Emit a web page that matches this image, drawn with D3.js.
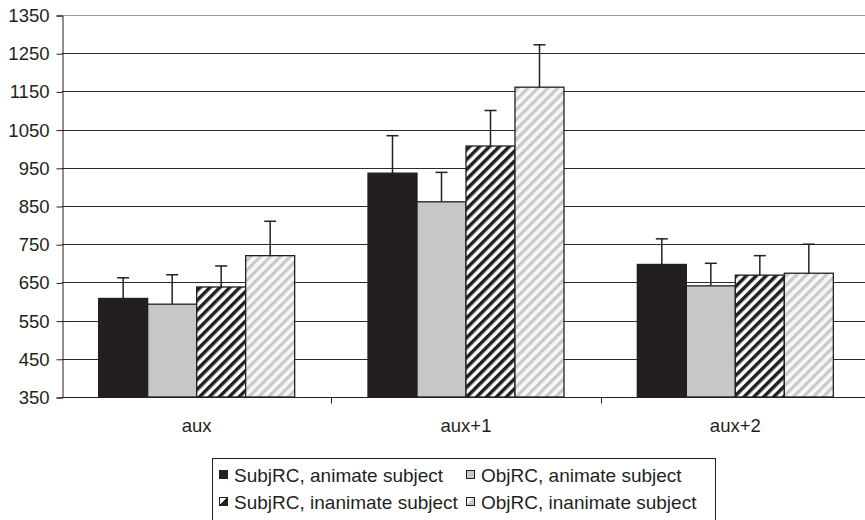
<!DOCTYPE html>
<html>
<head>
<meta charset="utf-8">
<script src="https://cdn.jsdelivr.net/npm/d3@7"></script>
<style>
  body { margin: 0; background: #fff; }
  svg { display: block; }
  text { font-family: "Liberation Sans", Arial, sans-serif; fill: #231f20; }
</style>
</head>
<body>
<div id="chart"></div>
<script>
let categories = ["aux", "aux+1", "aux+2"]
let seriesNames = ["SubjRC, animate subject", "ObjRC, animate subject",
  "SubjRC, inanimate subject", "ObjRC, inanimate subject"]

// mean reading times per condition, one array per series
let subjAnimate = [608, 936, 697]
let objAnimate = [593, 861, 641]
let subjInanimate = [638, 1007, 669]
let objInanimate = [720, 1161, 674]

// error bar lengths (upper half only)
let subjAnimateErr = [54, 98, 67]
let objAnimateErr = [77, 77, 59]
let subjInanimateErr = [55, 93, 51]
let objInanimateErr = [90, 111, 76]

let yTicks = [350, 450, 550, 650, 750, 850, 950, 1050, 1150, 1250, 1350]

let means = [subjAnimate, objAnimate, subjInanimate, objInanimate]
let errs = [subjAnimateErr, objAnimateErr, subjInanimateErr, objInanimateErr]

let config = {
  width: 865,
  height: 520,
  left: 62,
  right: 870,
  top: 15,
  bottom: 397,
  groupWidth: 196,
  capWidth: 12,
  fontSize: 18.5,
  legendFontSize: 19
}

let fills = ["#231f20", "#c6c7c9", "url(#hatchDark)", "url(#hatchLight)"]
let swatchFills = ["#231f20", "#c6c7c9", "url(#legendDark)", "url(#legendLight)"]

let svg = d3.select("#chart").append("svg")
  .attr("width", config.width)
  .attr("height", config.height)

// hatch patterns
let defs = svg.append("defs")
function hatch(id, bg, fg, w) {
  let p = defs.append("pattern")
    .attr("id", id)
    .attr("patternUnits", "userSpaceOnUse")
    .attr("width", 7)
    .attr("height", 7)
    .attr("patternTransform", "rotate(45)")
  p.append("rect").attr("width", 7).attr("height", 7).attr("fill", bg)
  p.append("rect").attr("width", w).attr("height", 7).attr("fill", fg)
}
hatch("hatchDark", "#fff", "#231f20", 3.5)
hatch("hatchLight", "#f7f7f7", "#c9c9c9", 3.2)

// legend swatches: half-filled squares
function halfSwatch(id, light, dark) {
  let lg = defs.append("linearGradient")
    .attr("id", id)
    .attr("x1", 1).attr("y1", 1).attr("x2", 0).attr("y2", 0)
  lg.append("stop").attr("offset", "0.5").attr("stop-color", dark)
  lg.append("stop").attr("offset", "0.5").attr("stop-color", light)
}
halfSwatch("legendDark", "#fff", "#231f20")
halfSwatch("legendLight", "#f4f4f4", "#c9c9c9")

let y = d3.scaleLinear()
  .domain([350, 1350])
  .range([config.bottom, config.top])

let x0 = d3.scaleBand()
  .domain(categories)
  .range([config.left, config.right])

let pad = (x0.bandwidth() - config.groupWidth) / 2
let x1 = d3.scaleBand()
  .domain(d3.range(seriesNames.length))
  .range([pad, pad + config.groupWidth])

// grid lines
svg.append("g")
  .selectAll("line")
  .data(yTicks.slice(1))
  .join("line")
  .attr("x1", config.left)
  .attr("x2", config.width)
  .attr("y1", d => Math.round(y(d)) + 0.5)
  .attr("y2", d => Math.round(y(d)) + 0.5)
  .attr("stroke", d => d === 1350 ? "#9a9a9a" : "#2b2b2b")
  .attr("stroke-width", 1)

// y axis
let yAxis = svg.append("g")
  .attr("transform", "translate(" + (config.left + 0.5) + ",0.5)")
  .call(d3.axisLeft(y).tickValues(yTicks).tickFormat(d3.format("d")).tickSize(6).tickPadding(7))
yAxis.select(".domain").attr("stroke", "#231f20")
yAxis.selectAll(".tick line").attr("stroke", "#231f20")
yAxis.selectAll("text")
  .style("font-size", config.fontSize + "px")
  .style("font-family", "'Liberation Sans', Arial, sans-serif")
  .attr("fill", "#231f20")

// bars
let rows = []
categories.forEach((c, ci) => {
  means.forEach((m, si) => {
    rows.push({ cat: c, s: si, v: m[ci], e: errs[si][ci] })
  })
})

let groups = svg.append("g")
let cx = d => x0(d.cat) + x1(d.s) + x1.bandwidth() / 2

groups.selectAll("line.err")
  .data(rows)
  .join("line")
  .attr("class", "err")
  .attr("x1", cx)
  .attr("x2", cx)
  .attr("y1", d => y(d.v))
  .attr("y2", d => y(d.v + d.e))
  .attr("stroke", "#231f20")
  .attr("stroke-width", 1.5)

groups.selectAll("line.cap")
  .data(rows)
  .join("line")
  .attr("class", "cap")
  .attr("x1", d => cx(d) - config.capWidth / 2)
  .attr("x2", d => cx(d) + config.capWidth / 2)
  .attr("y1", d => y(d.v + d.e))
  .attr("y2", d => y(d.v + d.e))
  .attr("stroke", "#231f20")
  .attr("stroke-width", 1.5)

groups.selectAll("rect")
  .data(rows)
  .join("rect")
  .attr("x", d => x0(d.cat) + x1(d.s))
  .attr("y", d => y(d.v))
  .attr("width", x1.bandwidth())
  .attr("height", d => y(350) - y(d.v))
  .attr("fill", d => fills[d.s])
  .attr("stroke", "#231f20")
  .attr("stroke-width", 1.3)

// x axis
let xAxis = svg.append("g")
  .attr("transform", "translate(0," + (config.bottom + 0.5) + ")")
xAxis.append("line")
  .attr("x1", config.left)
  .attr("x2", config.width)
  .attr("stroke", "#231f20")
xAxis.selectAll("line.tk")
  .data(categories.slice(1))
  .join("line")
  .attr("class", "tk")
  .attr("x1", d => Math.round(x0(d)) + 0.5)
  .attr("x2", d => Math.round(x0(d)) + 0.5)
  .attr("y1", 0)
  .attr("y2", 6)
  .attr("stroke", "#231f20")
xAxis.selectAll("text")
  .data(categories)
  .join("text")
  .attr("x", d => x0(d) + x0.bandwidth() / 2)
  .attr("y", 34)
  .attr("text-anchor", "middle")
  .style("font-size", config.fontSize + "px")
  .text(d => d)

// legend
let legend = svg.append("g")
legend.append("rect")
  .attr("x", 212.5)
  .attr("y", 458.5)
  .attr("width", 503)
  .attr("height", 80)
  .attr("fill", "none")
  .attr("stroke", "#231f20")

let legendPos = [[219, 475], [466, 475], [219, 502], [466, 502]]
let items = legend.selectAll("g.item")
  .data(seriesNames)
  .join("g")
  .attr("class", "item")
  .attr("transform", (d, i) => "translate(" + legendPos[i][0] + "," + legendPos[i][1] + ")")
items.append("rect")
  .attr("x", 0.5)
  .attr("y", -4.5)
  .attr("width", 8)
  .attr("height", 8)
  .attr("fill", (d, i) => swatchFills[i])
  .attr("stroke", "#231f20")
  .attr("stroke-width", 1)
items.append("text")
  .attr("x", 15)
  .attr("y", 6.5)
  .style("font-size", config.legendFontSize + "px")
  .text(d => d)
</script>
</body>
</html>
